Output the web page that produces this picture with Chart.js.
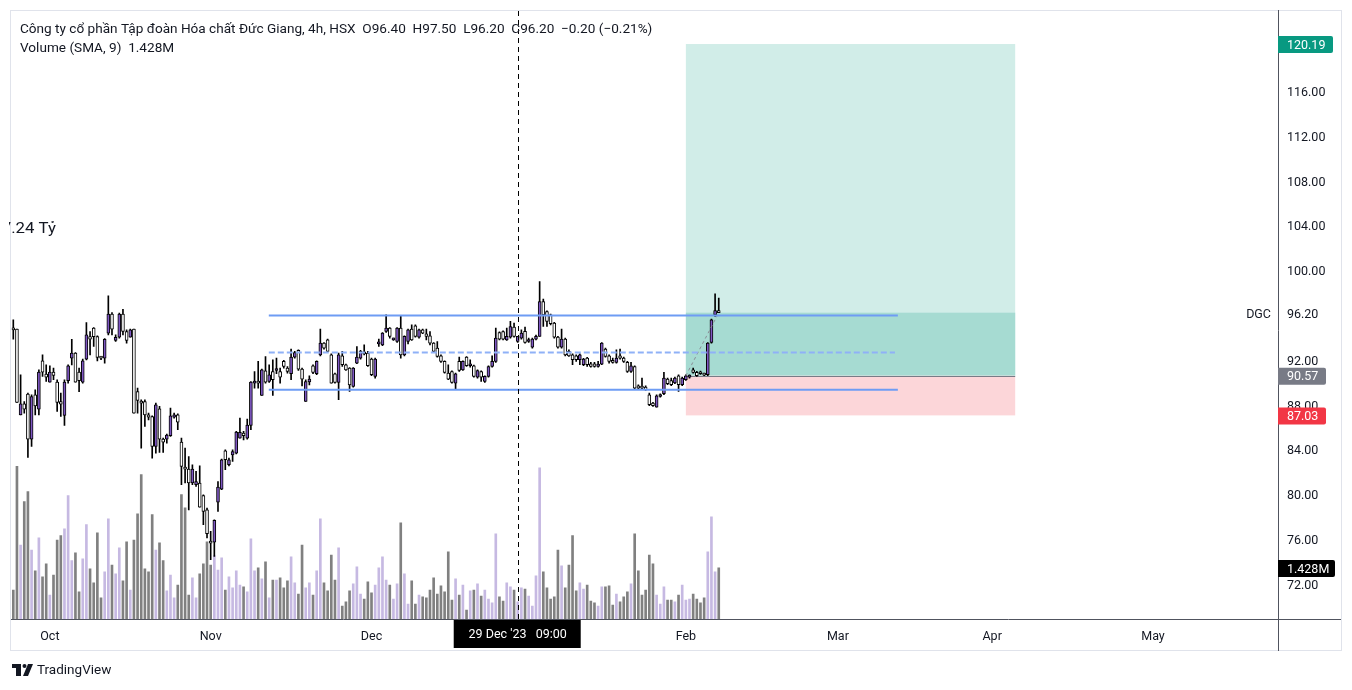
<!DOCTYPE html>
<html>
<head>
<meta charset="utf-8">
<script src="https://cdn.jsdelivr.net/npm/chart.js@4.4.1/dist/chart.umd.min.js"></script>
<style>
  html, body { margin: 0; padding: 0; background: #fff; }
  #wrap { width: 1352px; height: 690px; position: relative; }
</style>
</head>
<body>
<div id="wrap"><canvas id="c" width="1352" height="690"></canvas></div>
<script>
// DGC 4h candles, bar index 0..193 (late Sep 2023 -> 7 Feb 2024)
var opens = [94.82,94.73,87.08,88.06,88.93,84.91,88.87,87.59,91.90,90.71,
  90.00,90.89,90.00,88.27,87.02,90.12,92.14,92.59,90.89,90.00,
  92.05,94.07,94.82,94.07,92.20,92.14,94.37,96.07,93.72,94.01,
  96.07,94.52,94.01,94.73,89.16,88.27,88.27,87.08,86.93,84.26,
  87.62,84.91,84.91,85.21,86.88,87.08,84.64,82.41,82.23,80.99,
  80.84,80.99,79.86,78.60,75.78,75.72,79.29,80.45,83.87,82.62,
  83.51,83.66,85.00,85.45,85.00,86.13,89.91,89.95,88.81,91.01,
  90.06,90.95,91.04,90.95,91.85,91.25,90.75,92.23,92.83,91.16,
  88.28,90.03,91.46,90.75,92.44,93.48,93.78,92.44,90.75,89.97,
  92.35,91.55,91.25,89.62,91.70,92.14,92.65,92.59,92.05,90.51,
  93.42,93.33,94.52,94.82,93.78,93.63,94.82,92.44,93.63,94.73,
  95.03,94.02,94.67,94.32,94.14,93.48,93.04,92.35,91.85,90.81,
  90.95,89.91,91.85,91.10,92.23,91.46,91.46,90.45,90.95,90.06,
  90.51,91.40,91.85,94.43,94.52,93.78,94.02,94.91,93.63,93.93,
  94.53,93.63,93.13,93.84,94.08,97.20,96.31,96.01,95.27,94.02,
  93.13,93.84,92.74,92.44,92.35,92.00,91.55,92.15,91.64,91.64,
  91.40,91.61,92.95,92.35,91.94,91.76,92.35,92.15,91.76,90.96,
  91.40,89.68,89.62,89.56,88.87,88.13,87.77,88.72,88.96,90.27,
  90.15,89.92,90.57,89.77,90.21,90.45,91.10,90.87,90.93,90.75,
  90.66,93.54,96.01,96.40];
var highs = [95.56,94.73,90.65,88.27,89.02,88.87,89.31,91.10,92.44,91.54,
  91.45,91.25,90.21,89.02,90.21,91.54,93.83,92.65,91.25,92.05,
  95.32,94.52,94.88,94.13,92.30,93.90,97.70,96.21,94.22,96.16,
  96.51,94.67,94.73,94.73,89.46,88.42,88.42,87.23,86.99,88.12,
  87.83,85.00,85.36,87.68,87.23,87.17,85.00,84.11,83.36,82.62,
  82.03,82.53,79.94,78.75,76.67,77.71,81.13,83.13,83.96,83.22,
  83.96,85.60,86.79,85.60,86.70,90.06,90.95,91.85,91.16,92.29,
  91.55,92.00,92.14,91.25,91.94,91.40,92.95,92.74,92.89,91.25,
  90.21,90.57,91.55,91.91,94.73,93.54,93.84,92.53,90.81,92.59,
  92.74,91.61,91.31,91.31,93.18,92.83,93.33,92.74,92.14,92.14,
  93.84,94.43,96.01,94.88,93.93,94.88,95.92,94.14,94.73,95.12,
  95.12,94.73,94.73,94.73,94.52,93.54,93.63,92.44,91.91,91.55,
  91.01,90.81,92.23,91.91,92.29,92.00,91.52,91.10,91.01,90.57,
  91.46,92.35,94.82,94.49,94.58,94.82,95.42,95.27,94.08,94.68,
  94.91,93.93,93.93,94.20,98.99,97.41,96.37,96.07,95.33,94.08,
  94.73,93.93,92.89,92.53,92.44,92.53,92.12,92.21,91.76,91.76,
  91.85,93.54,93.04,92.44,92.15,92.89,92.95,92.24,91.85,91.76,
  91.46,89.77,90.36,89.68,89.02,88.19,88.87,88.96,90.87,90.36,
  90.36,90.45,90.66,90.45,90.66,90.66,91.25,90.96,90.99,90.81,
  93.54,95.63,97.89,97.50];
var lows = [93.83,88.18,87.08,87.23,83.27,84.26,87.08,87.08,90.50,90.06,
  90.00,90.21,87.38,86.93,86.13,89.91,91.54,90.00,89.16,89.91,
  91.99,92.44,93.18,91.90,92.00,91.69,94.22,94.22,93.63,93.92,
  94.22,93.48,94.01,87.23,87.23,84.11,86.04,86.63,83.21,83.66,
  83.72,83.72,84.55,85.15,86.79,85.75,80.84,80.99,78.60,80.84,
  80.69,78.84,77.27,76.08,74.14,74.44,78.46,80.39,82.18,82.53,
  82.92,83.60,85.00,84.85,84.91,85.75,89.46,89.47,88.81,89.91,
  89.97,88.81,90.75,89.91,91.25,90.81,90.21,92.14,91.04,89.67,
  88.28,89.76,90.75,90.66,92.35,92.95,92.74,89.91,89.91,88.43,
  91.40,91.04,89.17,89.56,91.64,92.05,92.44,91.40,90.57,90.36,
  93.18,93.25,94.43,93.93,93.72,93.54,92.14,92.35,93.42,93.72,
  94.02,93.93,94.32,93.78,93.33,92.65,92.23,91.76,90.81,90.21,
  89.91,89.32,90.95,91.04,91.40,91.34,90.45,90.36,90.06,89.97,
  90.45,91.34,91.76,93.78,93.78,93.72,93.93,94.02,93.54,93.84,
  93.49,93.54,93.04,93.78,94.08,94.97,94.97,95.12,93.93,93.04,
  93.04,92.35,92.30,91.55,91.85,91.55,91.46,91.40,91.34,91.34,
  91.34,91.55,92.24,91.70,91.70,91.70,92.06,91.76,90.87,90.87,
  89.38,89.38,89.38,89.26,87.89,87.83,87.77,88.66,88.87,89.77,
  89.68,89.86,89.17,89.68,90.15,90.36,90.81,90.51,90.69,90.57,
  90.57,93.49,95.86,96.20];
var closes = [94.67,88.18,88.06,87.59,84.91,88.72,87.88,90.89,90.89,90.44,
  90.89,90.59,88.18,88.03,90.00,91.45,92.59,90.00,90.12,91.90,
  94.22,93.83,94.07,92.20,92.14,93.83,96.07,94.73,94.01,96.07,
  94.52,93.72,94.67,87.23,88.36,88.12,87.08,86.87,84.26,87.97,
  84.91,84.64,85.27,86.99,87.08,86.43,82.47,82.23,80.99,82.23,
  81.13,78.84,78.46,76.46,75.63,77.65,80.63,83.07,83.07,83.07,
  83.81,85.54,85.51,85.21,86.16,90.00,89.95,89.91,91.10,90.00,
  90.66,90.21,91.07,90.45,91.40,90.95,92.23,92.65,91.16,90.27,
  90.06,90.27,90.86,91.85,93.48,93.04,92.74,89.91,89.97,92.44,
  91.55,91.10,89.76,91.25,92.23,92.74,92.53,91.46,90.66,92.05,
  93.45,94.38,94.82,94.08,93.84,94.82,92.44,94.08,94.67,93.78,
  94.08,94.67,94.38,94.08,93.48,92.74,92.29,91.85,90.86,90.27,
  89.97,90.75,91.04,91.85,91.46,91.55,90.51,91.04,90.45,90.51,
  91.40,91.85,93.93,93.84,93.84,94.08,94.97,94.08,94.08,94.38,
  93.54,93.78,93.84,94.08,97.20,96.01,95.42,95.21,94.02,93.13,
  93.84,92.44,92.35,92.00,92.00,92.44,92.06,91.55,91.40,91.40,
  91.61,93.49,92.30,91.85,91.76,92.15,92.15,91.85,90.96,91.46,
  89.47,89.47,89.47,89.32,87.98,87.89,88.78,88.87,90.36,89.86,
  89.77,90.36,89.77,90.36,90.57,90.57,90.87,90.57,90.75,90.63,
  93.49,95.57,96.40,96.20];
// volume in millions of shares
var volumes = [0.81,4.27,2.07,3.28,3.56,1.93,1.35,2.27,1.18,1.54,
  0.67,1.23,2.21,2.33,2.52,3.45,1.63,1.85,0.76,1.68,
  2.64,1.40,1.01,2.41,0.59,1.32,2.80,1.51,1.26,1.99,
  1.07,2.16,0.81,2.21,2.94,4.04,1.40,1.32,2.92,1.93,
  2.13,1.63,0.79,1.23,0.59,0.95,3.48,3.11,0.67,1.15,
  0.59,1.26,1.54,2.16,1.51,1.77,1.37,1.71,0.81,1.18,
  0.87,1.35,0.95,0.90,0.76,2.24,1.35,1.43,1.12,1.60,
  0.59,1.09,1.09,1.15,0.87,1.07,1.74,1.01,0.70,2.07,
  0.87,1.01,0.67,1.35,2.80,1.01,0.79,1.79,1.09,1.99,
  0.36,0.48,0.79,0.98,1.46,0.70,0.56,1.04,0.73,0.95,
  1.43,1.74,1.09,0.95,0.56,0.98,2.69,1.26,0.42,1.07,
  0.42,0.67,0.62,0.59,0.81,1.15,0.70,0.93,0.76,1.88,
  0.53,1.12,0.67,0.95,0.25,0.79,0.81,0.98,0.64,0.81,
  0.56,0.45,2.38,0.62,0.50,1.01,0.90,0.81,0.48,0.87,
  0.84,0.64,0.36,1.21,4.23,1.32,0.87,0.56,0.62,1.93,
  1.49,0.87,1.51,2.33,0.79,1.01,0.84,0.95,0.50,0.45,
  0.36,0.90,0.90,0.93,0.39,0.70,0.48,0.62,0.76,0.98,
  2.38,1.35,0.67,0.81,1.79,1.54,0.67,0.42,0.90,0.53,
  0.53,0.48,0.67,0.95,0.53,0.56,0.70,0.56,0.45,0.59,
  1.88,2.86,1.32,1.428];

var monthTicks = [10, 54, 98, 140, 184, 225.6, 267.8, 311.8];
var monthLabels = ["Oct", "Nov", "Dec", "Jan", "Feb", "Mar", "Apr", "May"];
var priceTicks = [72, 76, 80, 84, 88, 92, 100, 104, 108, 112, 116];

// drawings on the chart (bar index / price)
var rangeLines = [
  { from: 69.9, to: 242.0, price: 95.95, dashed: false },
  { from: 69.9, to: 241.2, price: 92.65, dashed: true },
  { from: 69.9, to: 242.0, price: 89.32, dashed: false }
];
var position = { from: 184, to: 274.1, target: 120.19, entry: 90.57, stop: 87.03 };
var crossBar = 138;
var crossLabel = "29 Dec '23   09:00";
var lastPrice = 96.20;
var lastVolume = 1.428;

var FONT = "Roboto, 'Noto Sans', sans-serif";
var TEXT = "#131722";
var UP = "#7e57c2", DOWN = "#ffffff";
var VOL_UP = "#c6b9e2", VOL_DOWN = "#808080";

var wickData = [], bodyData = [], volData = [], bodyColors = [], volColors = [];
for (var i = 0; i < opens.length; i++) {
  var up = closes[i] >= opens[i];
  wickData.push({ x: i, y: [lows[i], highs[i]] });
  bodyData.push({ x: i, y: [Math.min(opens[i], closes[i]), Math.max(opens[i], closes[i])] });
  volData.push({ x: i, y: volumes[i] });
  bodyColors.push(up ? UP : DOWN);
  volColors.push(up ? VOL_UP : VOL_DOWN);
}

function tag(ctx, x, yc, w, bg, fg, text) {
  ctx.fillStyle = bg;
  ctx.beginPath();
  ctx.roundRect(x, yc - 8, w, 17, [0, 2, 2, 0]);
  ctx.fill();
  ctx.fillStyle = fg;
  ctx.textAlign = "left";
  ctx.textBaseline = "middle";
  ctx.fillText(text, x + 9, yc + 1.5);
}

var overlay = {
  id: "overlay",
  beforeDatasetsDraw: function (chart) {
    var ctx = chart.ctx, x = chart.scales.x, y = chart.scales.y;
    var x0 = x.getPixelForValue(position.from), x1 = x.getPixelForValue(position.to);
    var yT = y.getPixelForValue(position.target), yE = y.getPixelForValue(position.entry);
    var yS = y.getPixelForValue(position.stop), yL = y.getPixelForValue(lastPrice);
    ctx.save();
    ctx.fillStyle = "#d1ede8";
    ctx.fillRect(x0, yT, x1 - x0, yE - yT);
    ctx.fillStyle = "#a6dbd2";
    ctx.fillRect(x0, yL, x1 - x0, yE - yL);
    ctx.fillStyle = "#fcd6d9";
    ctx.fillRect(x0, yE, x1 - x0, yS - yE);
    ctx.strokeStyle = "#787b86";
    ctx.lineWidth = 1;
    ctx.beginPath();
    ctx.moveTo(x0, Math.round(yE) + 0.5);
    ctx.lineTo(x1, Math.round(yE) + 0.5);
    ctx.stroke();
    ctx.restore();
  },
  afterDatasetsDraw: function (chart) {
    var ctx = chart.ctx, x = chart.scales.x, y = chart.scales.y, area = chart.chartArea;
    ctx.save();
    // trend from entry to last close
    ctx.strokeStyle = "#8a8d96";
    ctx.setLineDash([3, 3]);
    ctx.lineWidth = 1;
    ctx.beginPath();
    ctx.moveTo(x.getPixelForValue(position.from), y.getPixelForValue(position.entry));
    ctx.lineTo(x.getPixelForValue(opens.length - 1), y.getPixelForValue(lastPrice));
    ctx.stroke();
    // range lines
    rangeLines.forEach(function (l) {
      ctx.strokeStyle = l.dashed ? "#8fb1f7" : "#6e9cf4";
      ctx.lineWidth = 2;
      ctx.setLineDash(l.dashed ? [6, 3] : []);
      ctx.beginPath();
      var py = y.getPixelForValue(l.price);
      ctx.moveTo(x.getPixelForValue(l.from), py);
      ctx.lineTo(x.getPixelForValue(l.to), py);
      ctx.stroke();
    });
    // crosshair
    var cx = Math.round(x.getPixelForValue(crossBar)) + 0.5;
    ctx.strokeStyle = "#000";
    ctx.lineWidth = 1;
    ctx.setLineDash([5, 4]);
    ctx.beginPath();
    ctx.moveTo(cx, area.top);
    ctx.lineTo(cx, area.bottom);
    ctx.stroke();
    ctx.restore();
  },
  afterDraw: function (chart) {
    var ctx = chart.ctx, x = chart.scales.x, y = chart.scales.y, yv = chart.scales.yv, area = chart.chartArea;
    ctx.save();
    // frame and axis borders
    ctx.strokeStyle = "#e0e3eb";
    ctx.lineWidth = 1;
    ctx.strokeRect(10.5, 10.5, 1331, 640);
    ctx.strokeStyle = "#50535e";
    ctx.beginPath();
    ctx.moveTo(Math.round(area.right) + 0.5, 10);
    ctx.lineTo(Math.round(area.right) + 0.5, 651);
    ctx.moveTo(11, Math.round(area.bottom) + 0.5);
    ctx.lineTo(1341, Math.round(area.bottom) + 0.5);
    ctx.stroke();

    // header legend
    ctx.fillStyle = TEXT;
    ctx.font = "13.6px " + FONT;
    ctx.textAlign = "left";
    ctx.textBaseline = "middle";
    ctx.fillText("Công ty cổ phần Tập đoàn Hóa chất Đức Giang, 4h, HSX  O96.40  H97.50  L96.20  C96.20  −0.20 (−0.21%)", 20, 29.5);
    ctx.fillText("Volume (SMA, 9)  1.428M", 20, 48.5);

    // clipped left label (the "7" is cut off by the pane edge)
    ctx.save();
    ctx.beginPath();
    ctx.rect(9, 200, 100, 50);
    ctx.clip();
    ctx.font = "14px " + FONT;
    ctx.textAlign = "right";
    ctx.translate(56, 229);
    ctx.scale(1.2, 1);
    ctx.fillText("7.24 Tỷ", 0, 0);
    ctx.restore();

    // right axis tags
    var ax = Math.round(area.right);
    ctx.font = "12.5px " + FONT;
    tag(ctx, ax, y.getPixelForValue(position.target), 55, "#089981", "#fff", position.target.toFixed(2));
    tag(ctx, ax, y.getPixelForValue(position.entry), 48, "#787b86", "#fff", position.entry.toFixed(2));
    tag(ctx, ax, y.getPixelForValue(position.stop), 48, "#f23645", "#fff", position.stop.toFixed(2));
    tag(ctx, ax, yv.getPixelForValue(lastVolume), 57, "#000", "#fff", lastVolume.toFixed(3) + "M");
    var ly = y.getPixelForValue(lastPrice);
    ctx.fillStyle = "#fff";
    ctx.fillRect(1238, ly - 8, 40, 18);
    ctx.fillRect(ax + 1, ly - 8, 54, 18);
    ctx.fillStyle = TEXT;
    ctx.textAlign = "right";
    ctx.fillText("DGC", 1271, ly + 2);
    ctx.textAlign = "left";
    ctx.fillText(lastPrice.toFixed(2), ax + 9, ly + 2);

    // crosshair time label
    var cx = x.getPixelForValue(crossBar);
    ctx.fillStyle = "#000";
    ctx.fillRect(cx - 64, area.bottom + 1, 127, 28);
    ctx.fillStyle = "#fff";
    ctx.textAlign = "center";
    ctx.fillText(crossLabel, cx, area.bottom + 15.5);

    // TradingView mark
    ctx.fillStyle = TEXT;
    ctx.fillRect(12, 664, 9, 4);
    ctx.fillRect(16, 664, 5, 12);
    ctx.beginPath();
    ctx.arc(24.5, 666, 2, 0, Math.PI * 2);
    ctx.fill();
    ctx.beginPath();
    ctx.moveTo(28, 664);
    ctx.lineTo(33, 664);
    ctx.lineTo(28, 676);
    ctx.lineTo(23, 676);
    ctx.closePath();
    ctx.fill();
    ctx.font = "13.5px " + FONT;
    ctx.textAlign = "left";
    ctx.fillText("TradingView", 37, 670.5);
    ctx.restore();
  }
};

new Chart(document.getElementById("c").getContext("2d"), {
  type: "bar",
  data: {
    datasets: [
      { label: "Volume", data: volData, yAxisID: "yv", backgroundColor: volColors, barThickness: 2, grouped: false, order: 3 },
      { label: "Wick", data: wickData, yAxisID: "y", backgroundColor: "#000", barThickness: 1, grouped: false, order: 2 },
      { label: "Body", data: bodyData, yAxisID: "y", backgroundColor: bodyColors, borderColor: "#000", borderWidth: 1,
        borderSkipped: false, barThickness: 3, minBarLength: 2, grouped: false, order: 1 }
    ]
  },
  options: {
    responsive: false,
    animation: false,
    devicePixelRatio: 1,
    events: [],
    layout: { padding: { left: 11.47, top: 11, right: 12, bottom: 40 } },
    plugins: { legend: { display: false }, tooltip: { enabled: false } },
    scales: {
      x: {
        type: "linear", min: -0.5, max: 346, offset: false,
        grid: { display: false, drawTicks: false, offset: false }, border: { display: false },
        afterBuildTicks: function (s) { s.ticks = monthTicks.map(function (v) { return { value: v }; }); },
        afterFit: function (s) { s.height = 31; s.paddingLeft = 0; s.paddingRight = 0; },
        ticks: {
          autoSkip: false, maxRotation: 0, padding: 10, color: TEXT, font: { family: FONT, size: 12.5 },
          callback: function (v) { var k = monthTicks.indexOf(v); return k >= 0 ? monthLabels[k] : ""; }
        }
      },
      y: {
        type: "linear", position: "right", min: 68.85, max: 123.14,
        grid: { display: false, drawTicks: false }, border: { display: false },
        afterBuildTicks: function (s) { s.ticks = priceTicks.map(function (v) { return { value: v }; }); },
        afterFit: function (s) { s.width = 62; s.paddingTop = 0; s.paddingBottom = 0; },
        ticks: { autoSkip: false, padding: 9, labelOffset: 2, color: TEXT, font: { family: FONT, size: 12.5 },
          callback: function (v) { return Number(v).toFixed(2); } }
      },
      yv: { type: "linear", display: false, min: 0, max: 17.0 }
    }
  },
  plugins: [overlay]
});
</script>
</body>
</html>
